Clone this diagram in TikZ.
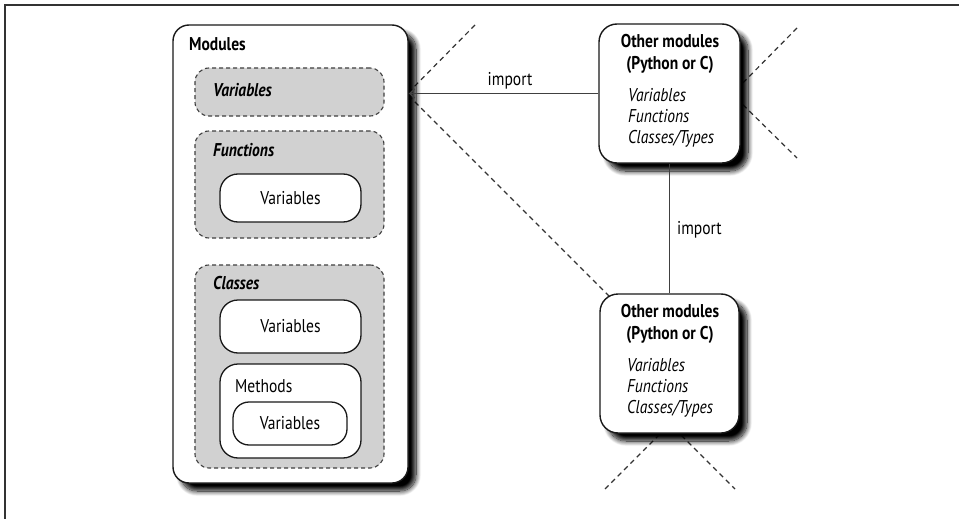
\documentclass[tikz,border=0pt]{standalone}
\usepackage{fontspec}
\setmainfont{PT Sans}[FakeStretch=0.84]
\usetikzlibrary{arrows.meta,shadows.blur}
\tikzset{
  modbox/.style={draw=black!90, line width=1.4pt, fill=white, rounded corners=16pt,
    blur shadow={shadow xshift=8pt, shadow yshift=-8pt, shadow blur radius=5pt, shadow opacity=100, shadow blur steps=12},
    inner sep=0pt},
  grpbox/.style={draw=black!75, dash pattern=on 4pt off 3pt, line width=1.1pt, fill=black!18,
    rounded corners=14pt, inner sep=0pt},
  inbox/.style={draw=black!90, line width=1.3pt, fill=white, rounded corners=18pt, inner sep=0pt},
  cut/.style={draw=black!80, line width=1.2pt, dash pattern=on 5pt off 4pt},
  link/.style={draw=black!75, line width=1.4pt},
  lbl/.style={inner sep=0pt, anchor=west},
  frameline/.style={draw=black!80, line width=1.6pt}
}
\newcommand{\fs}{\fontsize{18.5}{22}\selectfont}
\begin{document}
\begin{tikzpicture}[x=1pt,y=-1pt,font=\fs]
\useasboundingbox (0,0) rectangle (959,519);
% frame
\coordinate (f1) at (5,5);
\coordinate (f2) at (959,5);
\coordinate (f3) at (5,519);
\draw[frameline] (f3) -- (f1) -- (f2);

% cut lines (partly hidden by boxes)
\coordinate (xa) at (407,94);
\coordinate (xa1) at (475,25);
\coordinate (xa2) at (612,299);
\coordinate (xb) at (732,94);
\coordinate (xb1) at (797,28);
\coordinate (xb2) at (797,158);
\coordinate (xc) at (670,424);
\coordinate (xc1) at (605,489);
\coordinate (xc2) at (735,489);
\draw[cut] (xa1) -- (xa) -- (xa2);
\draw[cut] (xb1) -- (xb) -- (xb2);
\draw[cut] (xc1) -- (xc) -- (xc2);

% main module box
\node[modbox, minimum width=235pt, minimum height=458pt] (mod) at (290.5,254) {};
\node[lbl, font=\fs\bfseries] (modt) at (189,44) {Modules};

\node[grpbox, minimum width=189pt, minimum height=48pt] (gvar) at (289.5,92) {};
\node[lbl, font=\fs\bfseries\itshape] (gvart) at (213,90) {Variables};

\node[grpbox, minimum width=189pt, minimum height=107pt] (gfun) at (289.5,184.5) {};
\node[lbl, font=\fs\bfseries\itshape] (gfunt) at (213,150) {Functions};
\node[inbox, minimum width=141pt, minimum height=48pt] (fvar) at (290.5,198) {Variables};

\node[grpbox, minimum width=189pt, minimum height=203pt] (gcls) at (289.5,366.5) {};
\node[lbl, font=\fs\bfseries\itshape] (gclst) at (213,283) {Classes};
\node[inbox, minimum width=141pt, minimum height=53pt] (cvar) at (290.5,326.5) {Variables};
\node[inbox, minimum width=141pt, minimum height=94pt] (meth) at (290.5,411) {};
\node[lbl] (metht) at (235,386) {Methods};
\node[inbox, rounded corners=16pt, minimum width=114pt, minimum height=43pt] (mvar) at (290,423.5) {Variables};

% other modules
\node[modbox, rounded corners=18pt, minimum width=141pt, minimum height=139pt] (otop) at (669.5,93.5) {};
\node[inner sep=0pt, align=center, font=\fontsize{18.5}{22}\selectfont\bfseries] (otopt) at (670,54) {Other modules\\(Python or C)};
\node[lbl, align=left, font=\fontsize{18.5}{21}\selectfont\itshape] (otopi) at (628,118) {Variables\\Functions\\Classes/Types};

\node[modbox, rounded corners=18pt, minimum width=139pt, minimum height=139pt] (obot) at (669.5,363.5) {};
\node[inner sep=0pt, align=center, font=\fontsize{18.5}{22}\selectfont\bfseries] (obott) at (670,324) {Other modules\\(Python or C)};
\node[lbl, align=left, font=\fontsize{18.5}{21}\selectfont\itshape] (oboti) at (627,388) {Variables\\Functions\\Classes/Types};

% links
\draw[link, -{Straight Barb[length=5pt,width=9pt]}] (otop.west) -- (otop.west -| mod.east);
\node[inner sep=0pt] (imp1) at (510,81) {import};
\draw[link] (otop.south) -- (obot.north);
\node[lbl] (imp2) at (677,230) {import};
\end{tikzpicture}
\end{document}
